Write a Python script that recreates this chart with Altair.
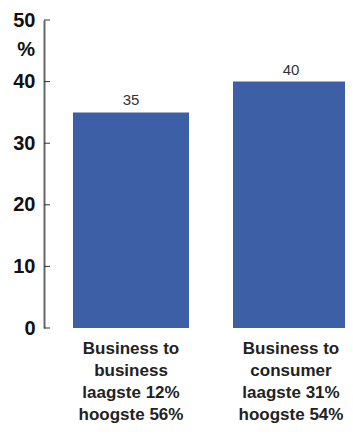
import altair as alt
import pandas as pd

categories = ["Business to\nbusiness\nlaagste 12%\nhoogste 56%",
              "Business to\nconsumer\nlaagste 31%\nhoogste 54%"]
values = [35, 40]
y_ticks = [0, 10, 20, 30, 40, 50]
unit_label = ["%"]

bars_df = pd.DataFrame({"cat": categories, "val": values})
ticks_df = pd.DataFrame({"t": y_ticks})
unit_df = pd.DataFrame({"u": unit_label})

FONT = "Liberation Sans"

x_enc = alt.X("cat:N", sort=categories, title=None,
              scale=alt.Scale(range=[0, 305], paddingInner=0.275,
                              paddingOuter=0.0906, align=1),
              axis=alt.Axis(domain=False, ticks=False, labelAngle=0,
                            labelExpr="split(datum.label, '\\n')",
                            labelFont=FONT, labelFontSize=17, labelFontWeight="bold",
                            labelColor="#222222", labelLineHeight=22,
                            labelPadding=12, labelLimit=300))
y_scale = alt.Scale(domain=[0, 50], nice=False)

bars = alt.Chart(bars_df).mark_bar(color="#3D5FA6").encode(
    x=x_enc,
    y=alt.Y("val:Q", scale=y_scale, title=None,
            axis=alt.Axis(values=y_ticks, ticks=False, tickSize=0, grid=False,
                          domainColor="#666666", domainWidth=2,
                          labelFont=FONT, labelFontSize=20, labelFontWeight="bold",
                          labelColor="#111111", labelPadding=9)),
)

bar_text = alt.Chart(bars_df).mark_text(
    baseline="bottom", dy=-4, font=FONT, fontSize=15, color="#333333"
).encode(
    x=alt.X("cat:N", sort=categories),
    y=alt.Y("val:Q", scale=y_scale),
    text=alt.Text("val:Q"),
)

tick_rules = alt.Chart(ticks_df).mark_rule(color="#333333", strokeWidth=1).encode(
    x=alt.value(0), x2=alt.value(6),
    y=alt.Y("t:Q", scale=y_scale),
)

unit = alt.Chart(unit_df).mark_text(
    align="right", baseline="middle", font=FONT, fontSize=20,
    fontWeight="bold", color="#111111"
).encode(x=alt.value(-9), y=alt.value(30), text="u:N")

chart = alt.layer(bars, bar_text, tick_rules, unit).properties(
    width=301, height=308,
    autosize=alt.AutoSizeParams(type="none"),
    padding={"left": 36, "top": 12, "right": 0, "bottom": 98},
).configure_view(stroke=None)

chart.save("out.html", embed_options={"renderer": "svg", "actions": False})
